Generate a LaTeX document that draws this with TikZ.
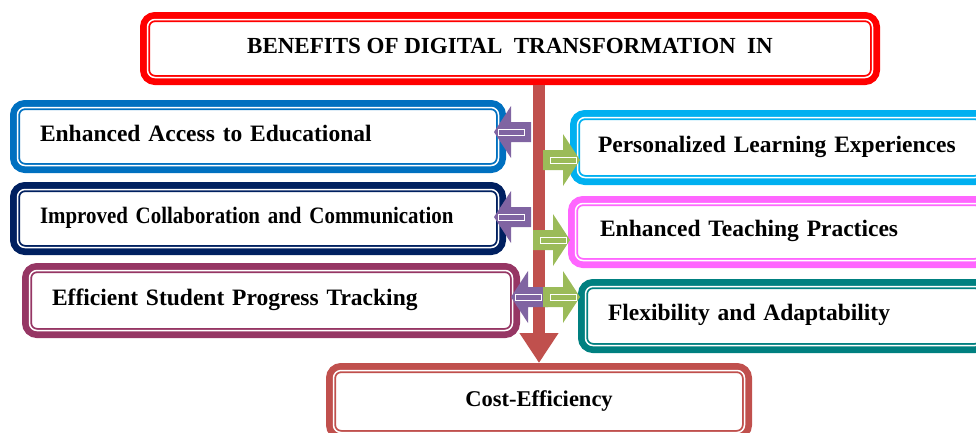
\documentclass[tikz,border=0pt]{standalone}
\usepackage{fontspec}
\setmainfont{Liberation Serif}
\newfontfamily\narrowfont{Liberation Serif}[FakeStretch=0.89]
\usetikzlibrary{arrows.meta,calc,positioning}
\definecolor{titlered}{RGB}{255,0,0}
\definecolor{accblue}{RGB}{0,112,192}
\definecolor{navy}{RGB}{0,32,96}
\definecolor{plum}{RGB}{150,54,100}
\definecolor{skyblue}{RGB}{0,176,240}
\definecolor{pinkish}{RGB}{255,102,255}
\definecolor{tealish}{RGB}{0,128,128}
\definecolor{brick}{RGB}{192,80,77}
\definecolor{arrpurple}{RGB}{128,100,162}
\definecolor{arrgreen}{RGB}{155,187,89}
\tikzset{
        box/.style = {draw=#1, line width=10, rounded corners=10, fill=white,
            outer sep=0, inner ysep=0, align=left,
            text height=17, text depth=8,
            font=\fontsize{23.5}{28}\selectfont\bfseries},
        mainline/.style = {draw=brick, line width=12,
            -{Triangle[width=37pt,length=30pt]}},
        pics/blockarr/.style = {code={
            \fill[#1] (0,0) -- (17,-26) -- (17,-10) -- (37,-10) -- (37,10)
                -- (17,10) -- (17,26) -- cycle;
            \draw[white, line width=0.8] (4,-3) rectangle (30,3);
        }},
    }

\begin{document}
\begin{tikzpicture}[x=1pt,y=1pt,yscale=-1]
\clip (0,0) rectangle (976,432);

% Boxes
\node[box=titlered, minimum width=730, minimum height=63, align=center,
      font=\fontsize{23}{28}\selectfont\bfseries] (title) at (510,48.5)
      {BENEFITS OF DIGITAL\ \ TRANSFORMATION\ \ IN};
\node[box=accblue, minimum width=486, minimum height=63, inner xsep=25,
      text width=436] (acc) at (258,136.5) {Enhanced Access to Educational};
\node[box=navy, minimum width=486, minimum height=63, inner xsep=25,
      text width=436, font=\fontsize{23.5}{28}\narrowfont\bfseries] (collab) at (258,218.5)
      {Improved Collaboration and Communication};
\node[box=plum, minimum width=488, minimum height=65, inner xsep=25,
      text width=438] (track) at (271,300.5) {Efficient Student\ Progress Tracking};
\node[box=skyblue, minimum width=410, minimum height=65, inner xsep=23,
      text width=364] (pers) at (780,147.5) {Personalized Learning Experiences};
\node[box=pinkish, minimum width=412, minimum height=62, inner xsep=27,
      text width=358] (teach) at (779,232) {Enhanced Teaching Practices};
\node[box=tealish, minimum width=402, minimum height=64, inner xsep=25,
      text width=352] (flex) at (784,316) {Flexibility and Adaptability};
\node[box=brick, minimum width=416, minimum height=67, align=center,
      font=\fontsize{22.5}{28}\selectfont\bfseries] (cost) at (539,401.5) {Cost-Efficiency};

% white inner line of each border
\foreach \n in {title,acc,collab,track,pers,teach,flex,cost}
  \draw[white, line width=1.5, rounded corners=7.5]
    ([xshift=2.5,yshift=2.5]\n.north west) rectangle ([xshift=-2.5,yshift=-2.5]\n.south east);

% Main arrow
\draw[mainline, shorten <=5pt, shorten >=5pt] (cost.north |- title.south) -- (cost.north);

% Block arrows
\pic at ([xshift=-7,yshift=-4.5]acc.east) {blockarr=arrpurple};
\pic at ([xshift=-7,yshift=-1.5]collab.east) {blockarr=arrpurple};
\pic at ([xshift=-4,yshift=-3.5]track.east) {blockarr=arrpurple};
\pic[xscale=-1] at ([xshift=5,yshift=12.5]pers.west) {blockarr=arrgreen};
\pic[xscale=-1] at ([xshift=-3,yshift=8]teach.west) {blockarr=arrgreen};
\pic[xscale=-1] at ([xshift=-3,yshift=-19]flex.west) {blockarr=arrgreen};

\end{tikzpicture}
\end{document}
